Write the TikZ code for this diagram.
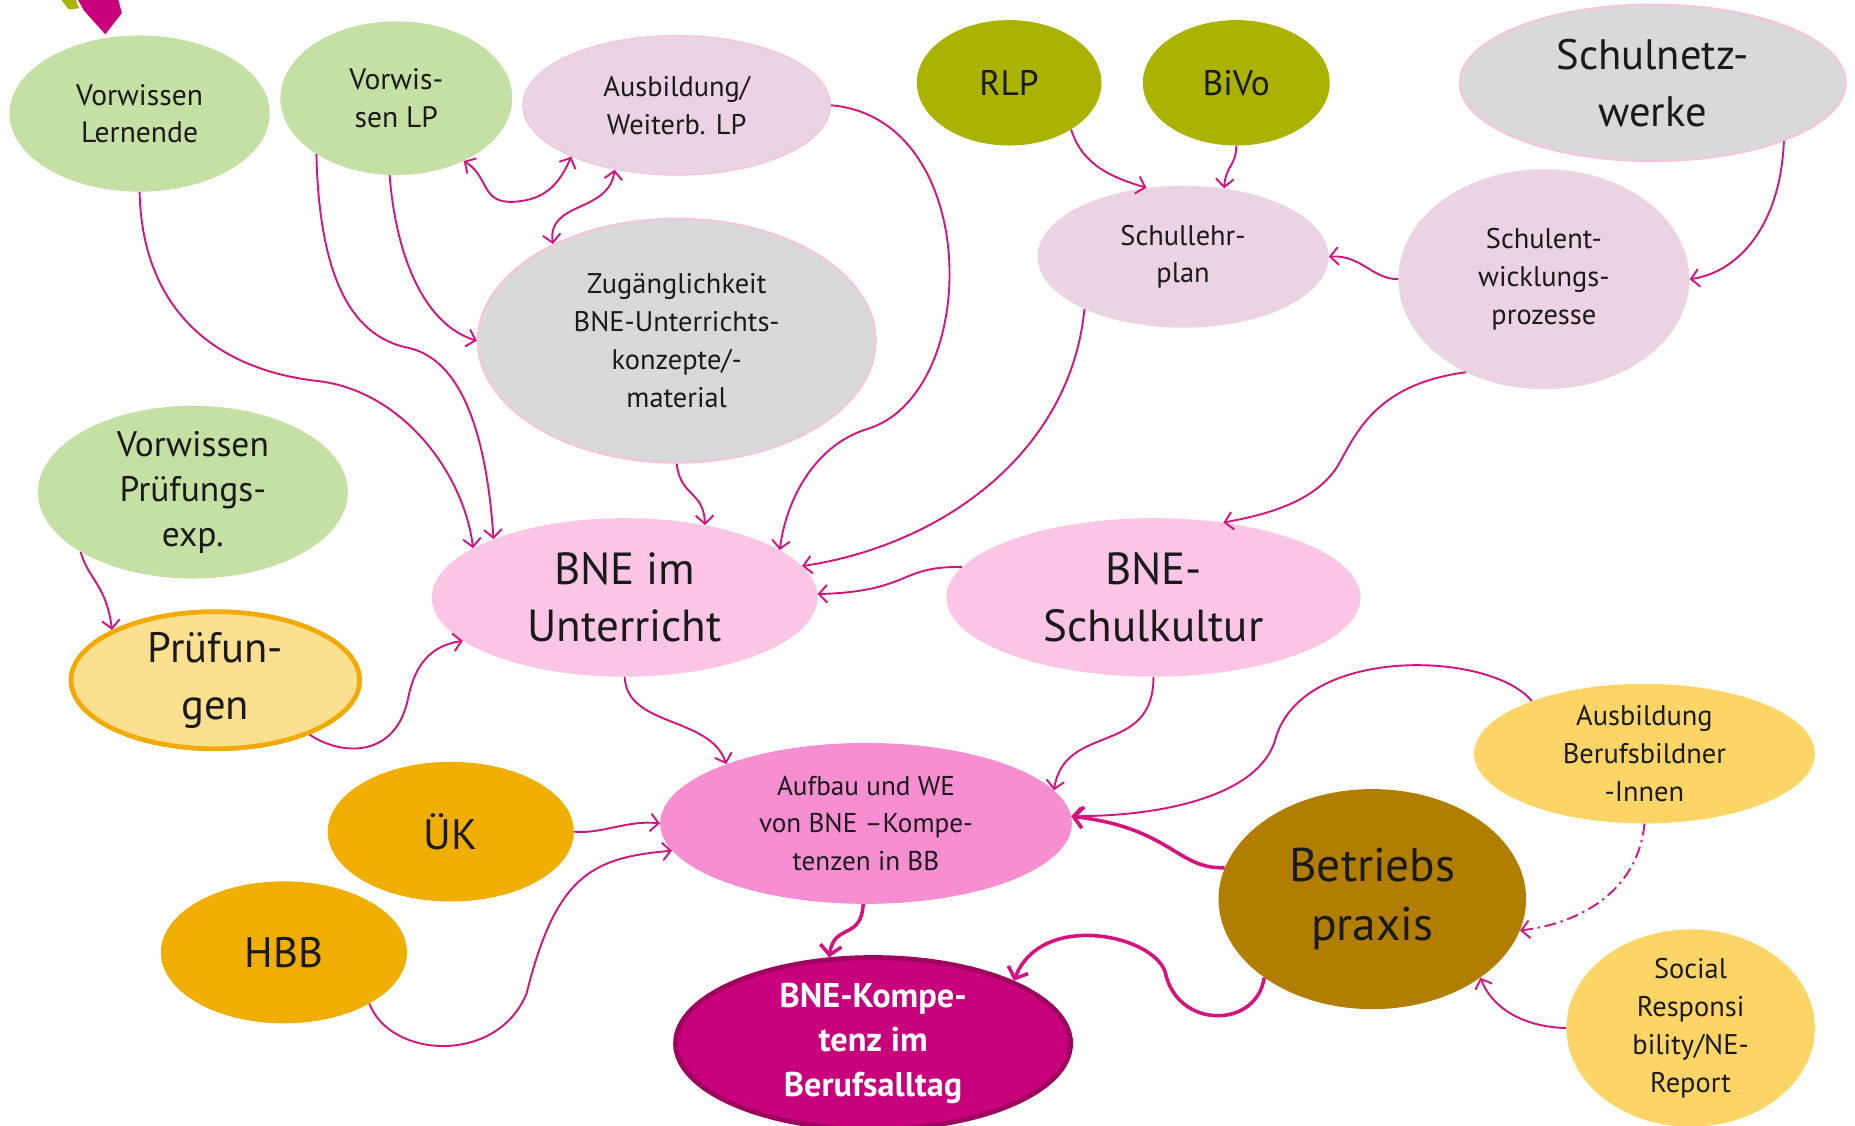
\documentclass[tikz,border=0pt]{standalone}
\usepackage{fontspec}
\setmainfont{PT Sans}
\usetikzlibrary{shapes.geometric,arrows.meta}
\definecolor{lgreen}{HTML}{C5E0A5}
\definecolor{lav}{HTML}{EBD3E3}
\definecolor{gry}{HTML}{D9D9D9}
\definecolor{gryb}{HTML}{F3C6E0}
\definecolor{olive}{HTML}{A9B300}
\definecolor{pinka}{HTML}{FBC5E5}
\definecolor{pinkb}{HTML}{F78ED2}
\definecolor{pyel}{HTML}{FDE08F}
\definecolor{porange}{HTML}{F2AA00}
\definecolor{amber}{HTML}{EFAE00}
\definecolor{mag}{HTML}{C8007B}
\definecolor{magb}{HTML}{9E005F}
\definecolor{brown}{HTML}{B27E00}
\definecolor{yel}{HTML}{FDD567}
\definecolor{lnk}{HTML}{D6127F}
\definecolor{txt}{HTML}{1A1A1A}
\newcommand{\fsz}[2]{\fontsize{#1}{#2}\selectfont}
\begin{document}
\begin{tikzpicture}[x=1pt,y=-1pt,
  bub/.style={ellipse, inner sep=0pt, align=center, text=txt},
  con/.style={draw=lnk, line width=1.6pt, -{Straight Barb[length=7pt,width=15pt,line width=1.6pt]}},
  bicon/.style={draw=lnk, line width=1.6pt, {Straight Barb[length=7pt,width=15pt,line width=1.6pt]}-{Straight Barb[length=7pt,width=15pt,line width=1.6pt]}},
  thcon/.style={draw=lnk, line width=3pt, -{Straight Barb[length=8pt,width=18pt,line width=3pt]}},
  dcon/.style={con, dash pattern=on 10pt off 4pt on 2pt off 4pt}]
\useasboundingbox (0,0) rectangle (1568,951);
\fill[white] (0,0) rectangle (1568,951);
% logo fragment
\fill[olive] (52,0) -- (64,0) -- (67,7) -- (58,8) -- cycle;
\fill[mag] (66,0) -- (100,0) -- (103,11) -- (89,29) -- (71,9) -- cycle;

% nodes
\node[bub, fill=lgreen, minimum width=220, minimum height=132, font=\fsz{25}{31}] (vl) at (118,96) {Vorwissen\\Lernende};
\node[bub, fill=lgreen, minimum width=196, minimum height=130, font=\fsz{25}{32}] (vlp) at (335,83) {Vorwis-\\sen LP};
\node[bub, fill=lav, draw=gryb, line width=1pt, minimum width=260, minimum height=118, font=\fsz{24}{32}] (awl) at (572,89) {Ausbildung/\\Weiterb. LP};
\node[bub, fill=gry, draw=gryb, line width=2pt, minimum width=336, minimum height=206, font=\fsz{24}{32}] (zug) at (572,288) {Zugänglichkeit\\BNE-Unterrichts-\\konzepte/-\\material};
\node[bub, fill=olive, minimum width=156, minimum height=106, font=\fsz{30}{36}] (rlp) at (853,70) {RLP};
\node[bub, fill=olive, minimum width=158, minimum height=106, font=\fsz{30}{36}] (bivo) at (1045,70) {BiVo};
\node[bub, fill=lav, minimum width=246, minimum height=120, font=\fsz{24}{32}] (slp) at (1000,217) {Schullehr-\\plan};
\node[bub, fill=gry, draw=gryb, line width=2pt, minimum width=326, minimum height=132, font=\fsz{36}{48}] (snw) at (1397,70) {Schulnetz-\\werke};
\node[bub, fill=lav, minimum width=246, minimum height=186, font=\fsz{24}{32}] (sep) at (1305,236) {Schulent-\\wicklungs-\\prozesse};
\node[bub, fill=lgreen, minimum width=262, minimum height=136, font=\fsz{30}{38}] (vpe) at (163,416) {Vorwissen\\Prüfungs-\\exp.};
\node[bub, fill=pyel, draw=porange, line width=4pt, minimum width=244, minimum height=116, font=\fsz{36}{48}] (pru) at (182,575) {Prüfun-\\gen};
\node[bub, fill=pinka, minimum width=326, minimum height=134, font=\fsz{38}{48}] (bneu) at (528,505) {BNE im\\Unterricht};
\node[bub, fill=pinka, minimum width=350, minimum height=134, font=\fsz{38}{48}] (bnes) at (975,505) {BNE-\\Schulkultur};
\node[bub, fill=pinkb, minimum width=348, minimum height=136, font=\fsz{23}{32}] (auf) at (732,696) {Aufbau und WE\\von BNE –Kompe-\\tenzen in BB};
\node[bub, fill=amber, minimum width=208, minimum height=118, font=\fsz{36}{44}] (uk) at (381,703) {ÜK};
\node[bub, fill=amber, minimum width=208, minimum height=120, font=\fsz{36}{44}] (hbb) at (240,805) {HBB};
\node[bub, fill=mag, draw=magb, line width=4pt, text=white, minimum width=334, minimum height=140, font=\bfseries\fsz{29}{38}] (kom) at (738,882) {BNE-Kompe-\\tenz im\\Berufsalltag};
\node[bub, fill=brown, minimum width=260, minimum height=186, font=\fsz{40}{50}] (bp) at (1160,760) {Betriebs\\praxis};
\node[bub, fill=yel, minimum width=288, minimum height=118, font=\fsz{24}{32}] (abb) at (1390,637) {Ausbildung\\Berufsbildner\\-Innen};
\node[bub, fill=yel, minimum width=210, minimum height=150, font=\fsz{24}{32}] (sr) at (1429,869) {Social\\Responsi\\bility/NE-\\Report};

% connectors
\draw[con] (vl.-90) .. controls (120,260) and (180,312) .. (268,322) .. controls (340,330) and (392,400) .. (bneu.162);
\draw[con] (vlp.-145) .. controls (270,240) and (300,285) .. (345,294) .. controls (395,305) and (412,380) .. (bneu.156);
\draw[con] (vlp.-95) .. controls (335,220) and (360,275) .. (zug.180);
\draw[bicon] (vlp.-43) .. controls (415,150) and (405,175) .. (440,170) .. controls (465,167) and (475,150) .. (awl.-154);
\draw[bicon] (zug.142) .. controls (462,170) and (515,180) .. (awl.-134);
\draw[con] (awl.0) .. controls (830,100) and (830,330) .. (735,362) .. controls (690,375) and (665,420) .. (bneu.17);
\draw[con] (zug.-90) .. controls (575,420) and (595,415) .. (bneu.42);
\draw[con] (slp.-152) .. controls (905,380) and (800,460) .. (bneu.10);
\draw[con] (bnes.171) .. controls (760,478) and (770,500) .. (bneu.1);
\draw[con] (rlp.-37) .. controls (915,140) and (940,150) .. (slp.118);
\draw[con] (bivo.-90) .. controls (1045,140) and (1036,140) .. (slp.59);
\draw[con] (sep.180) .. controls (1160,236) and (1150,215) .. (slp.0);
\draw[con] (snw.-24) .. controls (1505,190) and (1470,230) .. (sep.0);
\draw[con] (sep.-130) .. controls (1160,325) and (1145,370) .. (1130,395) .. controls (1110,425) and (1070,435) .. (bnes.47);
\draw[con] (vpe.-152) .. controls (75,490) and (90,495) .. (pru.154);
\draw[con] (pru.-30) .. controls (290,640) and (335,640) .. (345,590) .. controls (352,555) and (370,545) .. (bneu.-165);
\draw[con] (bneu.-90) .. controls (530,615) and (600,605) .. (auf.157);
\draw[con] (bnes.-90) .. controls (975,640) and (900,610) .. (auf.10);
\draw[con] (uk.0) .. controls (510,705) and (530,693) .. (auf.180);
\draw[con] (hbb.-31) .. controls (330,895) and (420,900) .. (445,840) .. controls (470,740) and (500,725) .. (auf.-172);
\draw[con] (abb.155) .. controls (1260,550) and (1100,545) .. (1078,625) .. controls (1065,670) and (990,690) .. (auf.2);
\draw[thcon] (bp.168) .. controls (995,735) and (990,700) .. (auf.2);
\draw[thcon] (auf.-92) .. controls (728,795) and (705,780) .. (kom.117);
\draw[thcon] (bp.-144) .. controls (1062,870) and (995,870) .. (985,822) .. controls (975,790) and (880,770) .. (kom.24);
\draw[dcon] (abb.-90) .. controls (1385,750) and (1340,780) .. (bp.-12);
\draw[con] (sr.180) .. controls (1285,868) and (1260,850) .. (bp.-36);
\end{tikzpicture}
\end{document}
